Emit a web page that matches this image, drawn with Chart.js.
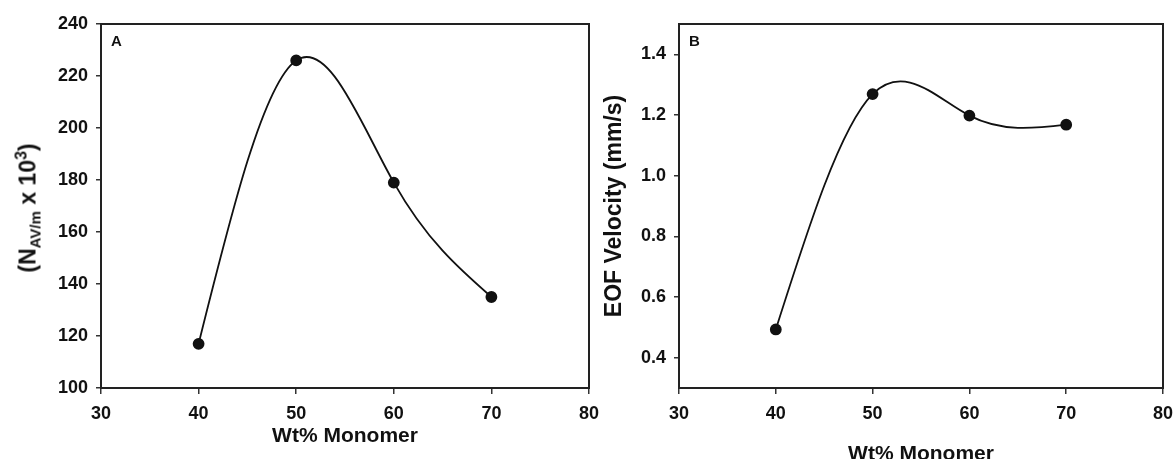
<!DOCTYPE html>
<html>
<head>
<meta charset="utf-8">
<script src="https://cdn.jsdelivr.net/npm/chart.js@4"></script>
<style>
  body { margin: 0; background: #fff; }
  #wrap { position: relative; width: 1174px; height: 459px; overflow: hidden; }
  #cA { position: absolute; left: 0; top: 0; }
  #cB { position: absolute; left: 590px; top: 0; }
  #ytitleA {
    position: absolute; left: 28px; top: 208px;
    transform: translate(-50%, -50%) rotate(-90deg);
    font: bold 23px "Liberation Sans", Arial, sans-serif;
    white-space: nowrap; color: #111;
  }
  #ytitleA sub { font-size: 15px; vertical-align: -5px; }
  #ytitleA sup { font-size: 16px; vertical-align: 9px; }
</style>
</head>
<body>
<div id="wrap">
  <canvas id="cA" width="600" height="459"></canvas>
  <canvas id="cB" width="584" height="459"></canvas>
  <div id="ytitleA">(N<sub>AV/m</sub> x 10<sup>3</sup>)</div>
</div>
<script>
// datos
const monomer = [40, 50, 60, 70];
const platesA = [117, 226, 179, 135];
const eofB = [0.493, 1.269, 1.198, 1.168];
const xTicks = [30, 40, 50, 60, 70, 80];
const yTicksA = [100, 120, 140, 160, 180, 200, 220, 240];
const yTicksB = [0.4, 0.6, 0.8, 1.0, 1.2, 1.4];

const FONT = '"Liberation Sans", Arial, sans-serif';

// marco alrededor del area del grafico + letra del panel
const framePlugin = {
  id: "frame",
  afterDraw(chart, args, opts) {
    const a = chart.chartArea;
    const ctx = chart.ctx;
    ctx.save();
    ctx.strokeStyle = "#222";
    ctx.lineWidth = 2;
    ctx.strokeRect(a.left, a.top, a.right - a.left, a.bottom - a.top);
    ctx.fillStyle = "#111";
    ctx.font = "bold 15px " + FONT;
    ctx.textBaseline = "middle";
    ctx.fillText(opts.label, a.left + 10, a.top + 18);
    ctx.restore();
  }
};

// curva spline natural (como la figura original) en vez de la bezier por defecto
const splinePlugin = {
  id: "naturalSpline",
  beforeDatasetsDraw(chart) {
    chart.getSortedVisibleDatasetMetas().forEach((meta) => {
      meta.dataset.updateControlPoints(chart.chartArea, meta.iScale.axis);
      const pts = meta.data;
      const n = pts.length;
      if (n < 3) return;
      const xs = pts.map((p) => p.x);
      const ys = pts.map((p) => p.y);
      const h = [];
      for (let i = 0; i < n - 1; i++) h.push(xs[i + 1] - xs[i]);
      // sistema tridiagonal para las segundas derivadas (M0 = Mn-1 = 0)
      const M = new Array(n).fill(0);
      const a = [], b = [], c = [], d = [];
      for (let i = 1; i < n - 1; i++) {
        a.push(h[i - 1]);
        b.push(2 * (h[i - 1] + h[i]));
        c.push(h[i]);
        d.push(6 * ((ys[i + 1] - ys[i]) / h[i] - (ys[i] - ys[i - 1]) / h[i - 1]));
      }
      const m = b.length;
      for (let i = 1; i < m; i++) {
        const w = a[i] / b[i - 1];
        b[i] -= w * c[i - 1];
        d[i] -= w * d[i - 1];
      }
      const sol = new Array(m);
      sol[m - 1] = d[m - 1] / b[m - 1];
      for (let i = m - 2; i >= 0; i--) sol[i] = (d[i] - c[i] * sol[i + 1]) / b[i];
      for (let i = 0; i < m; i++) M[i + 1] = sol[i];
      // pendientes en cada punto
      const s = [];
      for (let i = 0; i < n - 1; i++) {
        s.push((ys[i + 1] - ys[i]) / h[i] - h[i] * (2 * M[i] + M[i + 1]) / 6);
      }
      const hl = h[n - 2];
      s.push((ys[n - 1] - ys[n - 2]) / hl + hl * (M[n - 2] + 2 * M[n - 1]) / 6);
      pts.forEach((p, i) => {
        const hp = i > 0 ? h[i - 1] : h[0];
        const hn = i < n - 1 ? h[i] : h[n - 2];
        p.cp1x = p.x - hp / 3;
        p.cp1y = p.y - (hp / 3) * s[i];
        p.cp2x = p.x + hn / 3;
        p.cp2y = p.y + (hn / 3) * s[i];
      });
    });
  }
};

function makeChart(id, values, yMin, yMax, yTicks, yWidth, label, yTitle, xTitlePad, decimals) {
  return new Chart(document.getElementById(id), {
    type: "line",
    data: {
      datasets: [{
        data: monomer.map((m, i) => ({ x: m, y: values[i] })),
        borderColor: "#111",
        backgroundColor: "#111",
        borderWidth: 1.8,
        pointRadius: 5,
        pointBackgroundColor: "#111",
        tension: 0.4,
        fill: false
      }]
    },
    options: {
      responsive: false,
      animation: false,
      layout: { padding: { top: 24, right: 11, left: 0, bottom: 0 } },
      plugins: {
        legend: { display: false },
        tooltip: { enabled: false },
        frame: { label: label }
      },
      scales: {
        x: {
          type: "linear",
          min: 30, max: 80,
          afterBuildTicks: (s) => { s.ticks = xTicks.map(v => ({ value: v })); },
          afterFit: (s) => { s.height = 71; s.paddingLeft = 0; s.paddingRight = 0; },
          grid: { drawOnChartArea: false, tickLength: 6, color: "#333", lineWidth: 1.5 },
          border: { display: false },
          ticks: { color: "#111", font: { family: FONT, size: 18, weight: "bold" }, padding: 9 },
          title: {
            display: true, text: "Wt% Monomer", color: "#111",
            font: { family: FONT, size: 21, weight: "bold" },
            padding: { top: 0, bottom: xTitlePad }
          }
        },
        y: {
          min: yMin, max: yMax,
          afterBuildTicks: (s) => { s.ticks = yTicks.map(v => ({ value: v })); },
          afterFit: (s) => { s.width = yWidth; s.paddingTop = 0; s.paddingBottom = 0; },
          grid: { drawOnChartArea: false, tickLength: 5, color: "#333", lineWidth: 1.5 },
          border: { display: false },
          ticks: {
            color: "#111", padding: 8,
            font: { family: FONT, size: 18, weight: "bold" },
            callback: (v) => v.toFixed(decimals)
          },
          title: {
            display: yTitle !== "", text: yTitle, color: "#111",
            font: { family: FONT, size: 23, weight: "bold" },
            padding: { top: 11, bottom: 0 }
          }
        }
      }
    },
    plugins: [splinePlugin, framePlugin]
  });
}

makeChart("cA", platesA, 100, 240, yTicksA, 101, "A", "", 10, 0);
makeChart("cB", eofB, 0.3, 1.5, yTicksB, 89, "B", "EOF Velocity (mm/s)", -8, 1);
</script>
</body>
</html>
